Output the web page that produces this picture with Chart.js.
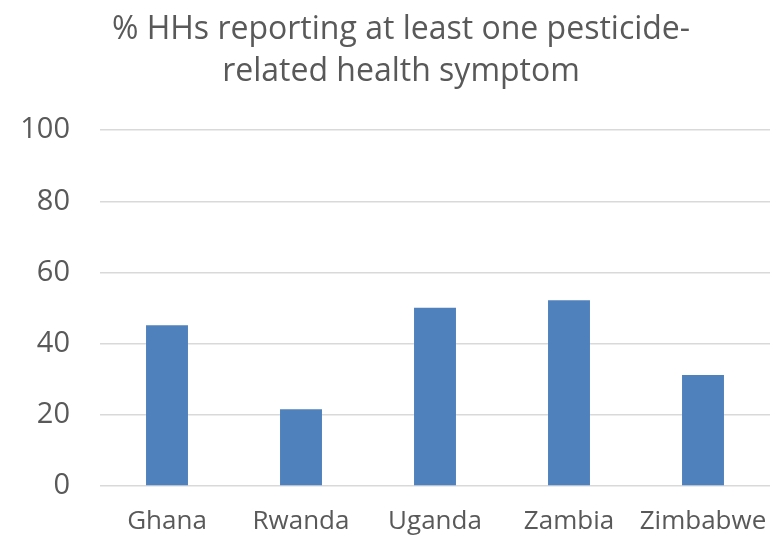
<!DOCTYPE html>
<html>
<head>
<meta charset="utf-8">
<script src="https://cdn.jsdelivr.net/npm/chart.js@4/dist/chart.umd.min.js"></script>
<style>
  html, body { margin: 0; padding: 0; background: #ffffff; }
  #wrap { width: 779px; height: 538px; position: relative; }
</style>
</head>
<body>
<div id="wrap"><canvas id="chart"></canvas></div>
<script>
// Share of households reporting at least one pesticide-related health symptom
const countries = ['Ghana', 'Rwanda', 'Uganda', 'Zambia', 'Zimbabwe'];
const pctHouseholds = [45.2, 21.6, 50.1, 52.2, 31.2];
const yTicks = [0, 20, 40, 60, 80, 100];
const titleLines = ['% HHs reporting at least one pesticide-', 'related health symptom'];

const FONT = '"Open Sans", sans-serif';
const TEXT = '#595959';

// Centre the title a little right of the canvas middle, over the plot region
const titleShift = {
  id: 'titleShift',
  afterLayout(chart) {
    const t = chart.titleBlock;
    if (t) { t.left += 16; t.right += 16; }
  }
};

new Chart(document.getElementById('chart'), {
  type: 'bar',
  data: {
    labels: countries,
    datasets: [{
      data: pctHouseholds,
      backgroundColor: '#4F81BD',
      borderWidth: 0,
      barPercentage: 1,
      categoryPercentage: 0.313
    }]
  },
  plugins: [titleShift],
  options: {
    responsive: true,
    maintainAspectRatio: false,
    animation: false,
    layout: { padding: { left: 0, right: 9, top: 0, bottom: 0 } },
    plugins: {
      legend: { display: false },
      tooltip: { enabled: false },
      title: {
        display: true,
        text: titleLines,
        color: TEXT,
        font: { family: FONT, size: 32, weight: 'normal', lineHeight: 1.3 },
        padding: { top: 9, bottom: 38 }
      }
    },
    scales: {
      x: {
        grid: { display: false, drawTicks: false },
        border: { display: false },
        ticks: { color: TEXT, font: { family: FONT, size: 26 }, padding: 20, maxRotation: 0 },
        afterFit: (s) => { s.height = 52; s.paddingLeft = 0; s.paddingRight = 0; }
      },
      y: {
        min: 0,
        max: 100,
        afterBuildTicks: (s) => { s.ticks = yTicks.map(v => ({ value: v })); },
        grid: { color: '#d9d9d9', lineWidth: 1.5, drawTicks: false },
        border: { display: false },
        ticks: { color: TEXT, font: { family: FONT, size: 29 }, padding: 30 },
        afterFit: (s) => { s.width = 100; }
      }
    }
  }
});
</script>
</body>
</html>
